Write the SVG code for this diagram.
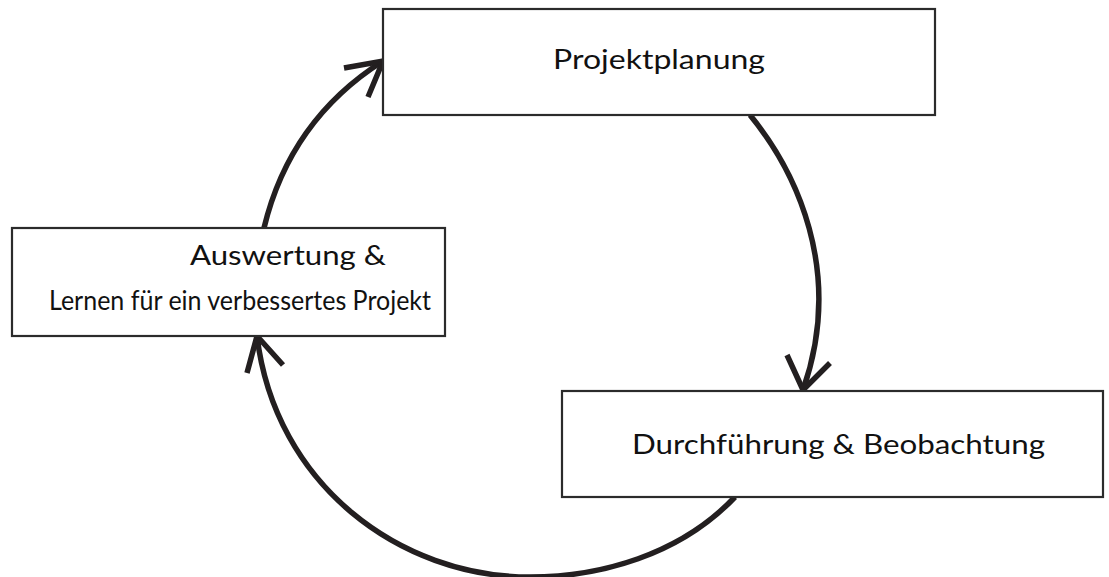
<svg xmlns="http://www.w3.org/2000/svg" width="1109" height="577" viewBox="0 0 1109 577">
<style>
.box{fill:#fff;stroke:#2b2b2b;stroke-width:2.2}
.lbl{font-family:Lato,"Open Sans","Liberation Sans",sans-serif;font-size:27px;fill:#111}
.arc{fill:none;stroke:#231f20;stroke-width:5.5;stroke-linecap:butt}
.head{fill:none;stroke:#231f20;stroke-width:5.5;stroke-linejoin:miter;stroke-linecap:butt}
</style>
<rect width="1109" height="577" fill="#fff"/>
<g id="connectors">
<path class="arc" d="M750,115 C795,170 845,270 803,390"/>
<polyline class="head" points="787,355 803,390 830,363"/>
<path class="arc" d="M735,497 C680,555 600,577 530,577 C400,577 275,485 257,336"/>
<polyline class="head" points="247,373 257,336 283,365"/>
<path class="arc" d="M264,228 Q290,120 383,61"/>
<polyline class="head" points="344,68 383,61 368,97"/>
</g>
<g id="node-planung">
<rect class="box" x="383" y="9" width="552" height="106"/>
<text class="lbl" x="553" y="69" textLength="212" lengthAdjust="spacingAndGlyphs">Projektplanung</text>
</g>
<g id="node-auswertung">
<rect class="box" x="12" y="228" width="433" height="108"/>
<text class="lbl" x="190" y="265" textLength="196" lengthAdjust="spacingAndGlyphs">Auswertung &amp;</text>
<text class="lbl" x="49" y="310" textLength="382" lengthAdjust="spacingAndGlyphs">Lernen für ein verbessertes Projekt</text>
</g>
<g id="node-durchfuehrung">
<rect class="box" x="562" y="391" width="541" height="106"/>
<text class="lbl" x="632" y="454" textLength="413" lengthAdjust="spacingAndGlyphs">Durchführung &amp; Beobachtung</text>
</g>
</svg>
